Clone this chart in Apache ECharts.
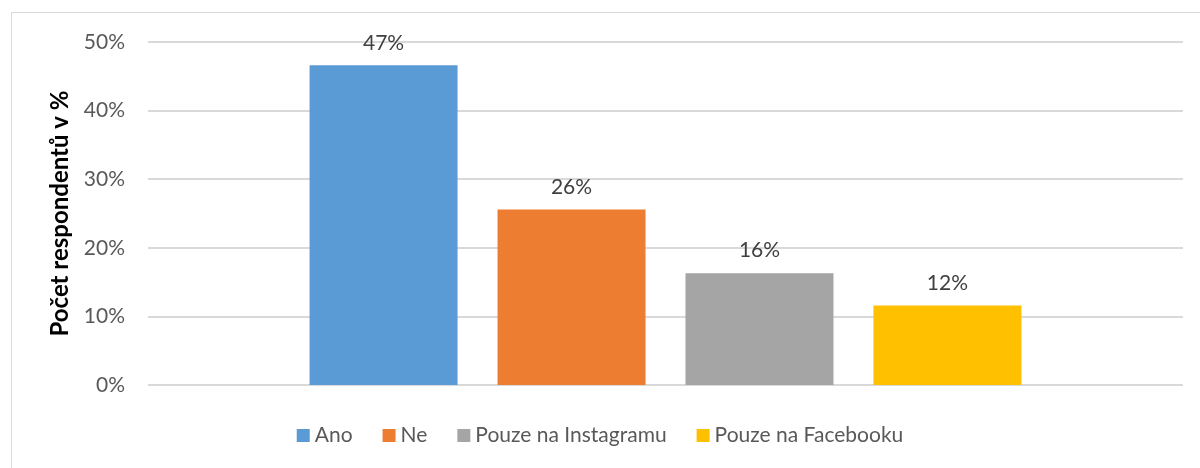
<!DOCTYPE html>
<html>
<head>
<meta charset="utf-8">
<script src="https://cdn.jsdelivr.net/npm/echarts@6/dist/echarts.min.js"></script>
<style>
  html, body { margin: 0; padding: 0; background: #fff; }
  .frame {
    position: absolute; left: 11px; top: 12px;
    width: 1300px; height: 600px;
    border: 1px solid #d9d9d9;
  }
  #chart { position: absolute; left: 0; top: 0; width: 1200px; height: 468px; }
</style>
</head>
<body>
<div class="frame"></div>
<div id="chart"></div>
<script>
// data
const categories = ['Ano', 'Ne', 'Pouze na Instagramu', 'Pouze na Facebooku'];
const values = [46.6, 25.6, 16.3, 11.6];
const colors = ['#5b9bd5', '#ed7d31', '#a5a5a5', '#ffc000'];
const yTicks = [0, 10, 20, 30, 40, 50];

const FONT = 'Lato, "Open Sans", sans-serif';

let myChart = echarts.init(document.getElementById('chart'));

let option = {
  animation: false,
  textStyle: { fontFamily: FONT },
  legend: {
    data: categories,
    bottom: 17,
    left: 'center',
    icon: 'rect',
    itemWidth: 13,
    itemHeight: 13,
    itemGap: 30,
    textStyle: { fontSize: 21, color: '#595959', fontFamily: FONT }
  },
  grid: { left: 148, right: 17, top: 42, bottom: 83 },
  xAxis: {
    type: 'category',
    data: [''],
    axisLine: { show: false },
    axisTick: { show: false },
    axisLabel: { show: false }
  },
  yAxis: {
    type: 'value',
    min: yTicks[0],
    max: yTicks[yTicks.length - 1],
    interval: 10,
    name: 'Počet respondentů v %',
    nameLocation: 'middle',
    nameGap: 76,
    nameTextStyle: { fontSize: 24, fontWeight: 'bold', color: '#000', fontFamily: FONT },
    axisLine: { show: false },
    axisTick: { show: false },
    axisLabel: {
      margin: 23,
      fontSize: 21,
      color: '#595959',
      formatter: v => v + '%'
    },
    splitLine: { lineStyle: { color: '#d9d9d9', width: 2 } }
  },
  series: categories.map((name, i) => ({
    name: name,
    type: 'bar',
    data: [values[i]],
    barWidth: 148,
    barGap: '27%',
    itemStyle: { color: colors[i] },
    label: {
      show: true,
      position: 'top',
      distance: 12,
      fontSize: 21,
      color: '#404040',
      formatter: p => Math.round(p.value) + '%'
    }
  }))
};

myChart.setOption(option);
</script>
</body>
</html>
